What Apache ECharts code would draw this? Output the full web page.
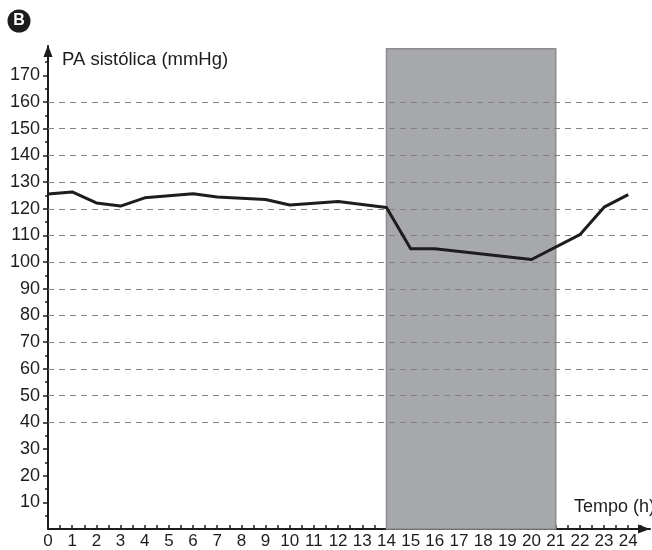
<!DOCTYPE html>
<html>
<head>
<meta charset="utf-8">
<script src="https://cdn.jsdelivr.net/npm/echarts@6/dist/echarts.min.js"></script>
<style>
  html, body { margin: 0; padding: 0; background: #fff; }
  #chart { width: 652px; height: 550px; }
</style>
</head>
<body>
<div id="chart"></div>
<script>
// Systolic blood pressure over a 24 h day
const hours    = [0, 1, 2, 3, 4, 6, 7, 9, 10, 12, 14, 15, 16, 20, 22, 23, 24];
const pressure = [125.5, 126.3, 122.2, 121, 124.1, 125.6, 124.4, 123.5, 121.4, 122.7, 120.5, 105, 105, 101, 110.3, 120.6, 125.3];

// Axis labels
const xTickLabels = [0, 1, 2, 3, 4, 5, 6, 7, 8, 9, 10, 11, 12, 13, 14, 15, 16, 17, 18, 19, 20, 21, 22, 23, 24];
const xHalfTicks  = [0.5, 1, 1.5, 2, 2.5, 3, 3.5, 4, 4.5, 5, 5.5, 6, 6.5, 7, 7.5, 8, 8.5, 9, 9.5, 10, 10.5, 11, 11.5, 12,
                     12.5, 13, 13.5, 14, 14.5, 15, 15.5, 16, 16.5, 17, 17.5, 18, 18.5, 19, 19.5, 20, 20.5, 21, 21.5, 22,
                     22.5, 23, 23.5, 24, 24.5];
const yTickLabels = [10, 20, 30, 40, 50, 60, 70, 80, 90, 100, 110, 120, 130, 140, 150, 160, 170];
const yMinorTicks = [5, 15, 25, 35, 45, 55, 65, 75, 85, 95, 105, 115, 125, 135, 145, 155, 165, 175];

// Dashed reference levels
const gridLevels = [40, 50, 60, 70, 80, 90, 100, 110, 120, 130, 140, 150, 160];

// Shaded interval (hours) and its top value
const shadedFrom = 14;
const shadedTo = 21;
const shadedTop = 180;

const ink = '#1f1c1d';

const chart = echarts.init(document.getElementById('chart'), null, { renderer: 'canvas' });

chart.setOption({
  animation: false,
  backgroundColor: '#ffffff',
  grid: { left: 48, right: 2, top: 46, bottom: 19.5, containLabel: false },
  xAxis: {
    type: 'value',
    min: 0,
    max: 24.9,
    axisLine: {
      show: true,
      lineStyle: { color: ink, width: 2 },
      symbol: ['none', 'triangle'],
      symbolSize: [9, 12],
      symbolOffset: [0, -6]
    },
    axisTick: {
      show: true,
      inside: true,
      length: 4,
      lineStyle: { color: ink, width: 1.5 },
      customValues: xHalfTicks
    },
    axisLabel: {
      show: true,
      customValues: xTickLabels,
      margin: 4,
      color: ink,
      fontFamily: "'Liberation Sans Narrow', 'Arial Narrow', 'Liberation Sans', sans-serif",
      fontSize: 17,
      hideOverlap: false
    },
    splitLine: { show: false }
  },
  yAxis: [
    {
      type: 'value',
      min: 0,
      max: 181,
      axisLine: {
        show: true,
        lineStyle: { color: ink, width: 2 },
        symbol: ['none', 'triangle'],
        symbolSize: [9, 12],
        symbolOffset: [0, -5]
      },
      axisTick: {
        show: true,
        inside: false,
        length: 5,
        lineStyle: { color: ink, width: 1.5 },
        customValues: yTickLabels
      },
      axisLabel: {
        show: true,
        customValues: yTickLabels,
        margin: 8,
        color: ink,
        fontFamily: "'Liberation Sans', Arial, sans-serif",
        fontSize: 18
      },
      splitLine: { show: false }
    },
    {
      type: 'value',
      min: 0,
      max: 181,
      position: 'left',
      axisLine: { show: false },
      axisTick: {
        show: true,
        inside: false,
        length: 3,
        lineStyle: { color: ink, width: 1.5 },
        customValues: yMinorTicks
      },
      axisLabel: { show: false },
      splitLine: { show: false }
    }
  ],
  graphic: [
    { type: 'circle', shape: { cx: 19, cy: 21, r: 11.5 }, style: { fill: ink }, z: 10 },
    {
      type: 'text', x: 19, y: 21, z: 11,
      style: {
        text: 'B', fill: '#ffffff', align: 'center', verticalAlign: 'middle',
        font: "bold 16px 'Liberation Sans', Arial, sans-serif"
      }
    },
    {
      type: 'text', x: 62, y: 60, z: 10,
      style: {
        text: 'PA sistólica (mmHg)', fill: ink, align: 'left', verticalAlign: 'middle',
        font: "18.5px 'Liberation Sans', Arial, sans-serif"
      }
    },
    {
      type: 'text', x: 574, y: 507, z: 10,
      style: {
        text: 'Tempo (h)', fill: ink, align: 'left', verticalAlign: 'middle',
        font: "18px 'Liberation Sans', Arial, sans-serif"
      }
    }
  ],
  series: [
    {
      // shaded period
      type: 'line',
      data: [],
      z: 1,
      silent: true,
      markArea: {
        silent: true,
        itemStyle: { color: '#a7a8ab', borderColor: '#8c8c8f', borderWidth: 1.5 },
        data: [[{ xAxis: shadedFrom, yAxis: 0 }, { xAxis: shadedTo, yAxis: shadedTop }]]
      }
    },
    {
      // dashed levels
      type: 'line',
      data: [],
      z: 2,
      silent: true,
      markLine: {
        silent: true,
        symbol: ['none', 'none'],
        label: { show: false },
        lineStyle: { color: '#838383', width: 1, type: [6, 5] },
        data: gridLevels.map(v => ({ yAxis: v }))
      }
    },
    {
      type: 'line',
      z: 5,
      data: hours.map((h, i) => [h, pressure[i]]),
      showSymbol: false,
      clip: false,
      lineStyle: { color: ink, width: 3, join: 'round' }
    }
  ]
});
</script>
</body>
</html>
